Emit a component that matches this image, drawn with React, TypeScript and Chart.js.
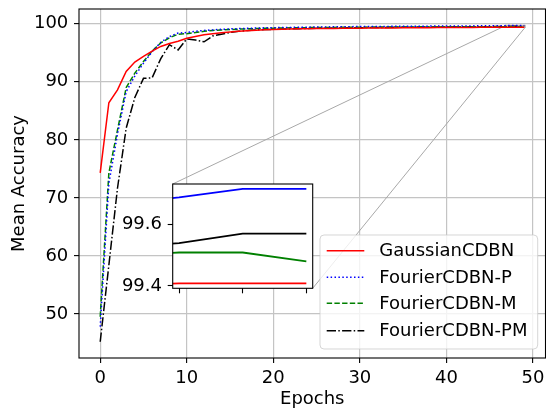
import { useEffect, useRef } from "react";
import { Chart, registerables } from "chart.js";
Chart.register(...registerables);

// ---------- data ----------
const epochs = Array.from({ length: 50 }, (_, i) => i);
const seriesLabels = ["GaussianCDBN", "FourierCDBN-P", "FourierCDBN-M", "FourierCDBN-PM"];
const gaussianCDBN = [
  74.3, 86.4, 88.6, 91.8, 93.4, 94.4, 95.3, 96.1, 96.6, 97.0,
  97.5, 97.8, 98.1, 98.3, 98.45, 98.6, 98.7, 98.8, 98.9, 98.98,
  99.03, 99.07, 99.1, 99.13, 99.15, 99.17, 99.19, 99.21, 99.22, 99.24,
  99.25, 99.26, 99.27, 99.28, 99.29, 99.3, 99.31, 99.32, 99.33, 99.34,
  99.35, 99.36, 99.37, 99.38, 99.39, 99.4, 99.4, 99.408, 99.408, 99.408,
];
const fourierP = [
  47.8, 72.5, 81.0, 88.3, 91.0, 93.2, 95.2, 96.8, 97.8, 98.4,
  98.5, 98.7, 98.85, 98.95, 99.05, 99.12, 99.18, 99.22, 99.27, 99.3,
  99.33, 99.36, 99.38, 99.4, 99.42, 99.44, 99.46, 99.48, 99.5, 99.51,
  99.52, 99.53, 99.54, 99.55, 99.56, 99.57, 99.58, 99.59, 99.6, 99.6,
  99.61, 99.62, 99.63, 99.64, 99.65, 99.66, 99.67, 99.689, 99.717, 99.717,
];
const fourierM = [
  49.5, 74.3, 81.7, 89.0, 91.5, 93.5, 95.3, 96.7, 97.6, 98.2,
  98.3, 98.5, 98.7, 98.85, 98.95, 99.02, 99.08, 99.13, 99.18, 99.22,
  99.25, 99.28, 99.3, 99.32, 99.34, 99.35, 99.36, 99.38, 99.39, 99.4,
  99.41, 99.42, 99.43, 99.43, 99.44, 99.45, 99.45, 99.46, 99.46, 99.47,
  99.47, 99.48, 99.48, 99.49, 99.49, 99.5, 99.5, 99.509, 99.509, 99.48,
];
const fourierPM = [
  45.2, 58.4, 71.7, 82.0, 87.3, 90.6, 90.7, 94.0, 96.4, 95.5,
  97.4, 97.2, 96.9, 97.9, 98.2, 98.5, 98.7, 98.85, 98.95, 99.0,
  99.05, 99.1, 99.13, 99.16, 99.19, 99.22, 99.25, 99.27, 99.29, 99.31,
  99.33, 99.35, 99.36, 99.38, 99.39, 99.4, 99.42, 99.43, 99.44, 99.45,
  99.46, 99.47, 99.48, 99.49, 99.5, 99.51, 99.52, 99.54, 99.571, 99.571,
];
const xTicks = [0, 10, 20, 30, 40, 50];
const yTicks = [50, 60, 70, 80, 90, 100];
const insetXTicks = [47, 48, 49];
const insetYTicks = [99.4, 99.6];

// ---------- layout / style ----------
const W = 546, H = 410;
const FONT = "'DejaVu Sans', sans-serif";
const FS = 18;
const MAIN_AREA = { left: 79, top: 9, right: 545.5, bottom: 358 };
const X_RANGE = { min: -2.45, max: 51.45 };
const Y_RANGE = { min: 42.4, max: 102.55 };
const INSET_CANVAS = { left: 110, top: 175, width: 210, height: 125 };
const INSET_BOX = { left: 172.7, top: 184, right: 312.7, bottom: 288.3 };
const INSET_X = { min: 46.9, max: 49.1 };
const INSET_Y = { min: 99.392, max: 99.733 };
const COLORS = ["#ff0000", "#0000ff", "#008000", "#000000"];
const DASHES = [[], [1.5, 2.4], [5.4, 2.3], [9.3, 2.3, 1.5, 2.3]];
const LEGEND = { left: 320, top: 235, right: 537.7, bottom: 349, rows: [250.7, 277.3, 303.3, 330.7], lineX1: 326.7, lineX2: 364.3, textX: 379.3 };
const GRID_COLOR = "#c4c4c4";

const allSeries = [gaussianCDBN, fourierP, fourierM, fourierPM];
const toPoints = (arr: number[]) => arr.map((v, i) => ({ x: epochs[i], y: v }));

function roundRect(ctx: CanvasRenderingContext2D, x: number, y: number, w: number, h: number, r: number) {
  ctx.beginPath();
  ctx.moveTo(x + r, y);
  ctx.lineTo(x + w - r, y);
  ctx.arcTo(x + w, y, x + w, y + r, r);
  ctx.lineTo(x + w, y + h - r);
  ctx.arcTo(x + w, y + h, x + w - r, y + h, r);
  ctx.lineTo(x + r, y + h);
  ctx.arcTo(x, y + h, x, y + h - r, r);
  ctx.lineTo(x, y + r);
  ctx.arcTo(x, y, x + r, y, r);
  ctx.closePath();
}

const zeroPad = (s: any) => {
  s.paddingTop = 0;
  s.paddingBottom = 0;
  s.paddingLeft = 0;
  s.paddingRight = 0;
};

const mainPlugin = {
  id: "mainDecor",
  beforeDatasetsDraw(chart: any) {
    const ctx = chart.ctx as CanvasRenderingContext2D;
    const xs = chart.scales.x, ys = chart.scales.y;
    const rx1 = xs.getPixelForValue(INSET_X.min), rx2 = xs.getPixelForValue(INSET_X.max);
    const ry1 = ys.getPixelForValue(INSET_Y.max), ry2 = ys.getPixelForValue(INSET_Y.min);
    ctx.save();
    ctx.strokeStyle = "#a8a8a8";
    ctx.lineWidth = 1;
    ctx.strokeRect(rx1, ry1, rx2 - rx1, ry2 - ry1);
    ctx.beginPath();
    ctx.moveTo(INSET_BOX.left, INSET_BOX.top);
    ctx.lineTo(rx1, ry1);
    ctx.moveTo(INSET_BOX.right, INSET_BOX.bottom);
    ctx.lineTo(rx2, ry2);
    ctx.stroke();
    ctx.restore();
  },
  afterDraw(chart: any) {
    const ctx = chart.ctx as CanvasRenderingContext2D;
    const a = chart.chartArea;
    ctx.save();
    ctx.strokeStyle = "#000";
    ctx.lineWidth = 1.1;
    ctx.strokeRect(a.left, a.top, a.right - a.left, a.bottom - a.top);
    // legend
    const L = LEGEND;
    roundRect(ctx, L.left, L.top, L.right - L.left, L.bottom - L.top, 4);
    ctx.fillStyle = "rgba(255,255,255,0.8)";
    ctx.fill();
    ctx.strokeStyle = "rgba(204,204,204,0.8)";
    ctx.lineWidth = 1;
    ctx.stroke();
    chart.data.datasets.forEach((ds: any, i: number) => {
      const y = L.rows[i];
      ctx.beginPath();
      ctx.setLineDash(ds.borderDash || []);
      ctx.strokeStyle = ds.borderColor;
      ctx.lineWidth = ds.borderWidth;
      ctx.moveTo(L.lineX1, y);
      ctx.lineTo(L.lineX2, y);
      ctx.stroke();
      ctx.setLineDash([]);
      ctx.fillStyle = "#000";
      ctx.font = `${FS}px ${FONT}`;
      ctx.textBaseline = "middle";
      ctx.textAlign = "left";
      ctx.fillText(ds.label, L.textX, y + 1);
    });
    ctx.restore();
  },
};

const insetPlugin = {
  id: "insetDecor",
  beforeDraw(chart: any) {
    const ctx = chart.ctx as CanvasRenderingContext2D;
    const a = chart.chartArea;
    ctx.save();
    ctx.fillStyle = "#fff";
    ctx.fillRect(a.left, a.top, a.right - a.left, a.bottom - a.top);
    ctx.restore();
  },
  afterDraw(chart: any) {
    const ctx = chart.ctx as CanvasRenderingContext2D;
    const a = chart.chartArea;
    ctx.save();
    ctx.strokeStyle = "#000";
    ctx.lineWidth = 1.1;
    ctx.strokeRect(a.left, a.top, a.right - a.left, a.bottom - a.top);
    ctx.restore();
  },
};

export default function App() {
  const mainRef = useRef<HTMLCanvasElement>(null);
  const insetRef = useRef<HTMLCanvasElement>(null);

  useEffect(() => {
    Chart.defaults.font.family = FONT;
    Chart.defaults.font.size = FS;
    Chart.defaults.color = "#000";

    const mainChart = new Chart(mainRef.current!, {
      type: "line",
      data: {
        datasets: allSeries.map((s, i) => ({
          label: seriesLabels[i],
          data: toPoints(s),
          borderColor: COLORS[i],
          backgroundColor: COLORS[i],
          borderWidth: 1.5,
          borderDash: DASHES[i],
          pointRadius: 0,
          tension: 0,
          fill: false,
        })),
      },
      options: {
        animation: false,
        responsive: false,
        devicePixelRatio: 1,
        layout: { padding: { left: 0, top: MAIN_AREA.top, right: W - MAIN_AREA.right, bottom: 0 } },
        plugins: { legend: { display: false }, tooltip: { enabled: false } },
        scales: {
          x: {
            type: "linear",
            min: X_RANGE.min,
            max: X_RANGE.max,
            afterBuildTicks: (s: any) => { s.ticks = xTicks.map((v) => ({ value: v })); },
            afterFit: (s: any) => { s.height = H - MAIN_AREA.bottom; zeroPad(s); },
            ticks: { callback: (v: any) => String(v), padding: 5, maxRotation: 0, autoSkip: false, font: { size: FS } },
            grid: { color: GRID_COLOR, lineWidth: 1.2, tickColor: "#000", tickLength: 5, tickWidth: 1.1 },
            border: { display: false },
            title: { display: true, text: "Epochs", font: { size: FS }, padding: { top: 0, bottom: 0 } },
          },
          y: {
            type: "linear",
            min: Y_RANGE.min,
            max: Y_RANGE.max,
            afterBuildTicks: (s: any) => { s.ticks = yTicks.map((v) => ({ value: v })); },
            afterFit: (s: any) => { s.width = MAIN_AREA.left; zeroPad(s); },
            ticks: { callback: (v: any) => String(v), padding: 5.7, autoSkip: false, font: { size: FS } },
            grid: { color: GRID_COLOR, lineWidth: 1.2, tickColor: "#000", tickLength: 5, tickWidth: 1.1 },
            border: { display: false },
            title: { display: true, text: "Mean Accuracy", font: { size: FS }, padding: { top: 8.4, bottom: 0 } },
          },
        },
      },
      plugins: [mainPlugin],
    } as any);

    const ia = {
      left: INSET_BOX.left - INSET_CANVAS.left,
      top: INSET_BOX.top - INSET_CANVAS.top,
      right: INSET_BOX.right - INSET_CANVAS.left,
      bottom: INSET_BOX.bottom - INSET_CANVAS.top,
    };
    const insetChart = new Chart(insetRef.current!, {
      type: "line",
      data: {
        datasets: allSeries.map((s, i) => ({
          label: seriesLabels[i],
          data: toPoints(s),
          borderColor: COLORS[i],
          backgroundColor: COLORS[i],
          borderWidth: 1.8,
          pointRadius: 0,
          tension: 0,
          fill: false,
        })),
      },
      options: {
        animation: false,
        responsive: false,
        devicePixelRatio: 1,
        layout: { padding: { left: 0, top: ia.top, right: INSET_CANVAS.width - ia.right, bottom: 0 } },
        plugins: { legend: { display: false }, tooltip: { enabled: false } },
        scales: {
          x: {
            type: "linear",
            min: INSET_X.min,
            max: INSET_X.max,
            afterBuildTicks: (s: any) => { s.ticks = insetXTicks.map((v) => ({ value: v })); },
            afterFit: (s: any) => { s.height = INSET_CANVAS.height - ia.bottom; zeroPad(s); },
            ticks: { callback: () => "", autoSkip: false, padding: 0 },
            grid: { drawOnChartArea: false, tickColor: "#000", tickLength: 5, tickWidth: 1.1 },
            border: { display: false },
          },
          y: {
            type: "linear",
            min: INSET_Y.min,
            max: INSET_Y.max,
            afterBuildTicks: (s: any) => { s.ticks = insetYTicks.map((v) => ({ value: v })); },
            afterFit: (s: any) => { s.width = ia.left; zeroPad(s); },
            ticks: { callback: (v: any) => Number(v).toFixed(1), padding: 5.7, autoSkip: false, font: { size: FS } },
            grid: { drawOnChartArea: false, tickColor: "#000", tickLength: 5, tickWidth: 1.1 },
            border: { display: false },
          },
        },
      },
      plugins: [insetPlugin],
    } as any);

    return () => {
      mainChart.destroy();
      insetChart.destroy();
    };
  }, []);

  return (
    <div style={{ position: "fixed", left: 0, top: 0, width: W, height: H, background: "#fff" }}>
      <canvas ref={mainRef} width={W} height={H} style={{ position: "absolute", left: 0, top: 0, width: W, height: H }} />
      <canvas
        ref={insetRef}
        width={INSET_CANVAS.width}
        height={INSET_CANVAS.height}
        style={{ position: "absolute", left: INSET_CANVAS.left, top: INSET_CANVAS.top, width: INSET_CANVAS.width, height: INSET_CANVAS.height }}
      />
    </div>
  );
}
